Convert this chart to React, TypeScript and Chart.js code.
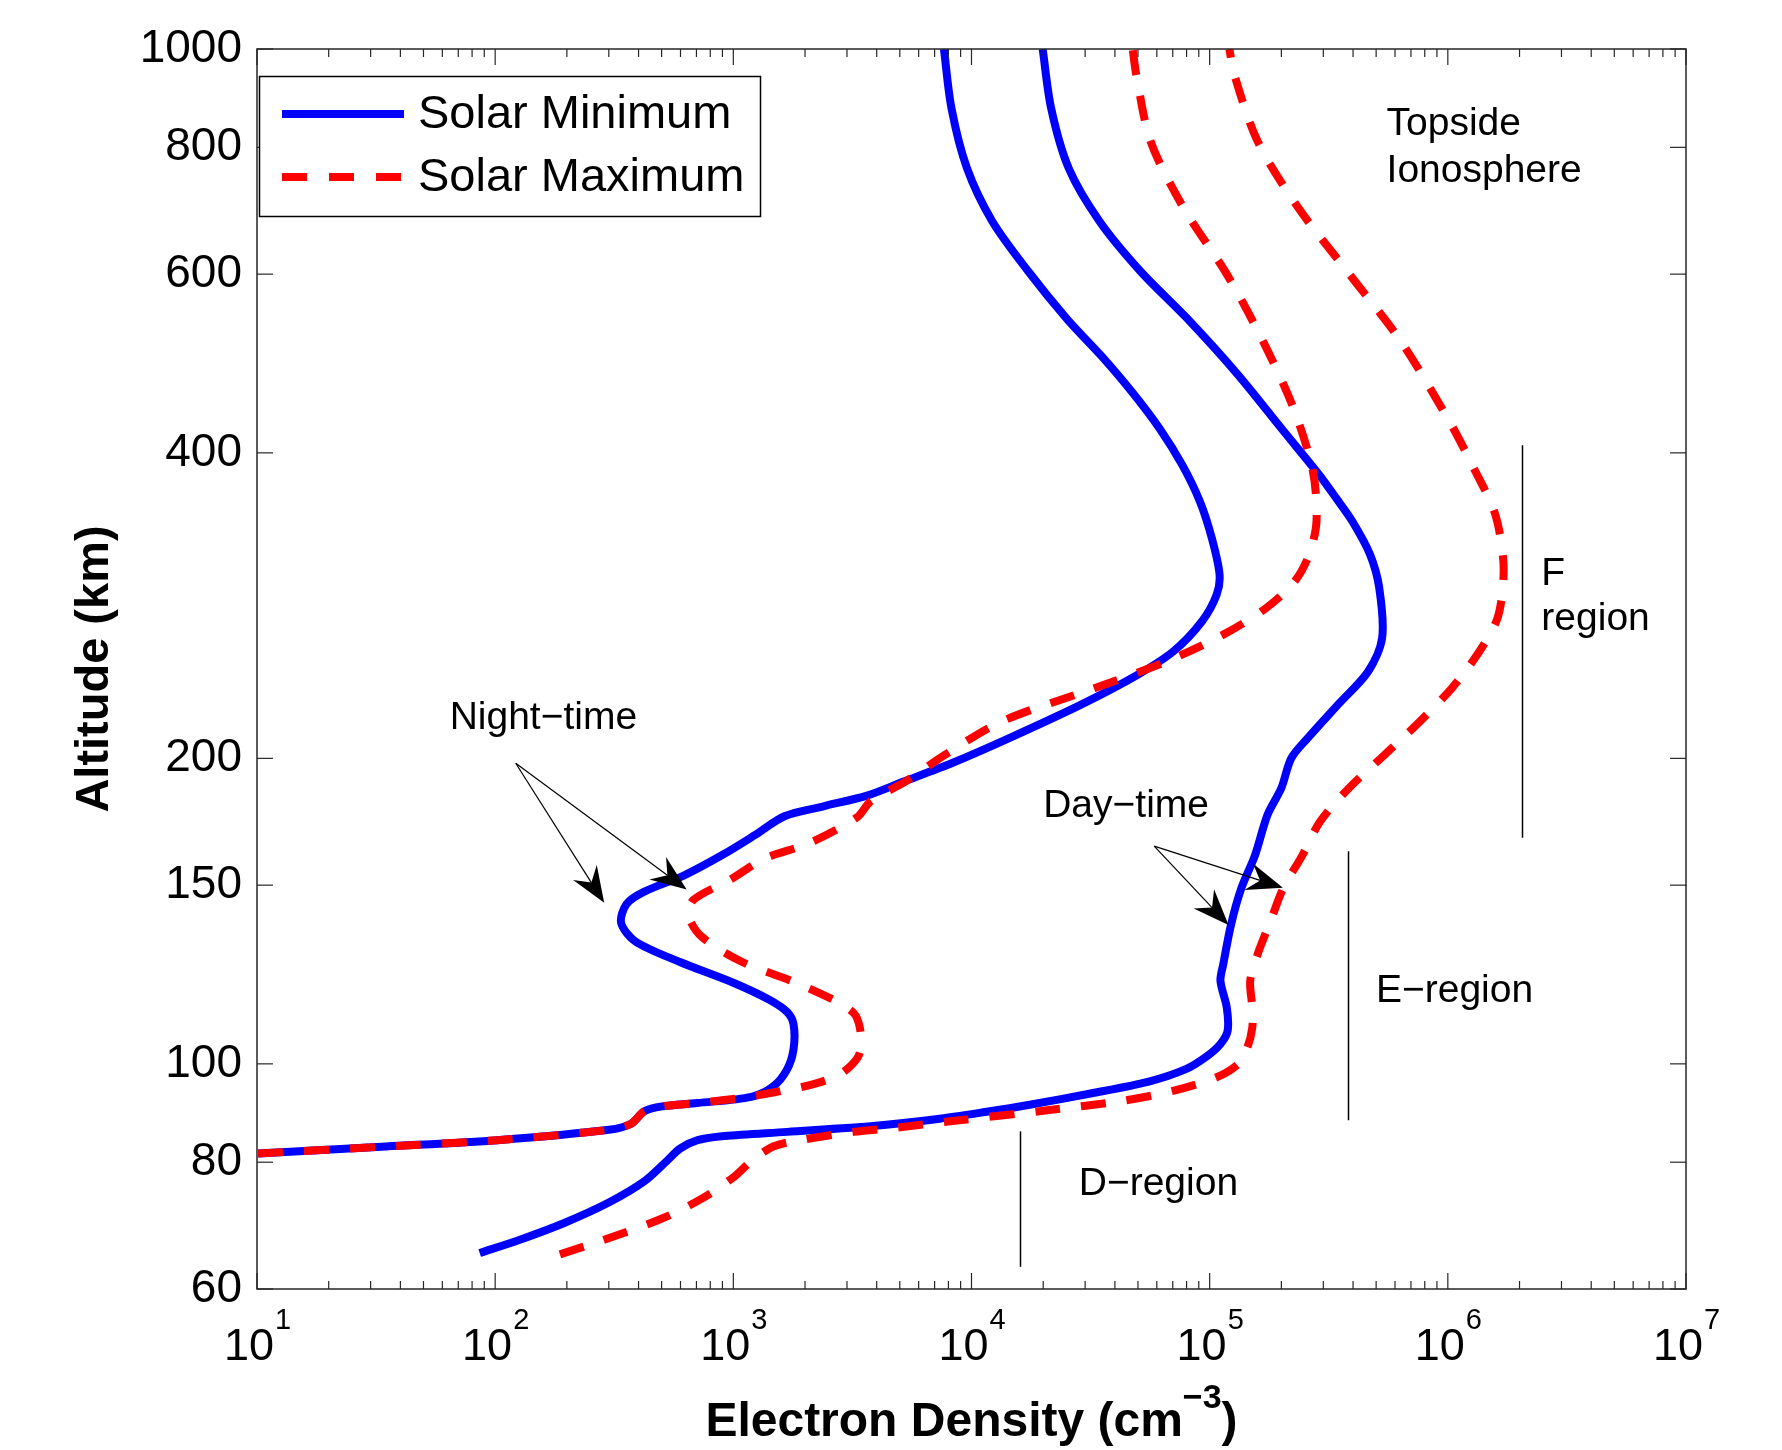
import React, { useEffect, useRef } from 'react';
import { Chart, registerables } from 'chart.js';

Chart.register(...registerables);

const FONT = '"Liberation Sans", Arial, Helvetica, sans-serif';

// ---- Data (altitude in km, electron density in cm^-3) ----
const minNightAltitude = [81.6, 82.9, 84.1, 86.1, 87.3, 89.8, 90.8, 91.5, 92.8, 95.0, 98.7, 103.4, 109.4, 112.5, 115.7, 120.2, 126.0, 132.0, 137.7, 143.7, 147.8, 153.4, 160.8, 168.0, 175.4, 179.3, 183.8, 189.4, 198, 209.4, 225.8, 241.8, 255, 273, 290, 303.7, 329.9, 358.2, 389, 422.5, 458.9, 498.4, 541.2, 604, 677, 763, 874, 1000];
const minNightDensity = [10.1, 34.8, 102, 300, 372, 423, 501, 708, 1190, 1470, 1680, 1790, 1790, 1680, 1410, 1000, 597, 388, 338, 356, 423, 622, 906, 1230, 1640, 2370, 3640, 5090, 8340, 14400, 28700, 49900, 70500, 92900, 107000, 110000, 102000, 91000, 76800, 61700, 47300, 35100, 25300, 17300, 12200, 9570, 8240, 7660];

const minDayAltitude = [65.1, 67.1, 69.7, 73.0, 76.6, 80.2, 82.5, 84.1, 84.9, 85.7, 86.9, 88.2, 89.6, 91.2, 93.5, 96.0, 98.8, 101.8, 104.6, 107.8, 113.6, 120.7, 125.3, 137.2, 149.1, 160.5, 176, 187, 200, 209.4, 225.8, 243.6, 262.9, 294.6, 317.8, 342.9, 360.5, 381, 421, 478, 544, 604, 677, 763, 874, 1000];
const minDayDensity = [86.1, 127, 195, 300, 423, 525, 597, 708, 918, 1680, 3960, 7080, 11200, 17800, 31600, 55000, 79400, 97700, 111000, 119000, 118000, 111000, 114000, 123000, 136000, 155000, 175000, 200000, 220000, 258000, 345000, 463000, 530000, 515000, 471000, 396000, 341000, 287000, 203000, 131000, 79600, 51200, 34400, 25600, 21600, 19900];

const maxNightAltitude = [81.6, 82.9, 84.1, 86.1, 87.3, 89.8, 90.8, 91.5, 92.6, 93.7, 95.5, 97.7, 101.5, 105.4, 111.5, 114.7, 120.2, 126.0, 133.3, 139.7, 145.0, 152.0, 159.3, 165, 175, 181.7, 189.6, 201.6, 217.5, 234.6, 249.2, 264.8, 281.4, 299.1, 317.8, 342.9, 384.2, 443.6, 516, 600, 697, 811, 943, 1000];
const maxNightDensity = [10.1, 34.8, 102, 300, 372, 423, 501, 708, 1090, 1470, 2170, 2810, 3330, 3450, 3270, 2810, 1830, 1090, 740, 650, 679, 977, 1350, 2080, 3310, 3790, 5250, 7730, 13400, 33000, 65800, 114000, 173000, 228000, 262000, 281000, 271000, 224000, 167000, 118000, 77800, 56500, 49200, 47500];

const maxDayAltitude = [64.9, 67.1, 70.4, 73.7, 77.3, 80.2, 82.9, 84.1, 85.7, 86.6, 87.9, 89.9, 92.0, 94.1, 97.0, 100.0, 103.8, 108.6, 113.6, 120.7, 128.2, 138.2, 149.1, 160.5, 173.1, 186.8, 201.5, 217.5, 234.6, 253.1, 273.1, 290.1, 313.0, 348.1, 387.1, 430.6, 516, 600, 697, 811, 943, 1000];
const maxDayDensity = [187, 287, 502, 740, 1000, 1190, 1470, 1910, 3200, 5010, 8510, 20000, 43600, 70800, 107000, 132000, 144000, 151000, 151000, 148000, 159000, 180000, 204000, 245000, 290000, 383000, 541000, 764000, 1040000, 1330000, 1600000, 1690000, 1710000, 1580000, 1280000, 1010000, 632000, 386000, 236000, 159000, 127000, 121000];

const seriesLabels = ['Solar Minimum', 'Solar Maximum'];
const yTickValues = [60, 80, 100, 150, 200, 400, 600, 800, 1000];
const xTickExponents = [1, 2, 3, 4, 5, 6, 7];
const xMinorMultipliers = [2, 3, 4, 5, 6, 7, 8, 9];

// region marker bars: density position, lower and upper altitude
const regionDensity = [2.05e6, 3.8e5, 1.6e4];
const regionLow = [167, 88, 63.1];
const regionHigh = [407, 162, 85.8];

// annotation arrows (start -> tip) in data coordinates
const arrowStartDensity = [122, 122, 58500, 58500];
const arrowStartAltitude = [197.8, 197.8, 163.9, 163.9];
const arrowTipDensity = [287, 637, 120000, 203000];
const arrowTipAltitude = [144.1, 148.5, 137.0, 149.1];

// text annotations (left/baseline anchored) in data coordinates
const noteTexts = ['Topside', 'Ionosphere', 'F', 'region', 'Night\u2212time', 'Day\u2212time', 'E\u2212region', 'D\u2212region'];
const noteDensity = [5.53e5, 5.53e5, 2.47e6, 2.47e6, 64.4, 2.0e4, 4.99e5, 2.82e4];
const noteAltitude = [822.7, 739, 296.3, 267.5, 213.7, 175.2, 115.1, 74.2];

const BLUE = '#0000ff';
const RED = '#ff0000';
const DASH = [25, 21];
const LINE_W = 8;

function toPoints(alt: number[], den: number[]) {
  return alt.map((a, i) => ({ x: den[i], y: a }));
}

function drawArrow(ctx: CanvasRenderingContext2D, x0: number, y0: number, x1: number, y1: number) {
  const dx = x1 - x0;
  const dy = y1 - y0;
  const len = Math.hypot(dx, dy);
  const ux = dx / len;
  const uy = dy / len;
  const nx = -uy;
  const ny = ux;
  const L = 36;
  const W = 14;
  const notch = 24;
  ctx.beginPath();
  ctx.moveTo(x0, y0);
  ctx.lineTo(x1 - ux * notch, y1 - uy * notch);
  ctx.stroke();
  ctx.beginPath();
  ctx.moveTo(x1, y1);
  ctx.lineTo(x1 - ux * L + nx * W, y1 - uy * L + ny * W);
  ctx.lineTo(x1 - ux * notch, y1 - uy * notch);
  ctx.lineTo(x1 - ux * L - nx * W, y1 - uy * L - ny * W);
  ctx.closePath();
  ctx.fill();
}

const overlayPlugin = {
  id: 'overlay',
  afterDraw(chart: any) {
    const ctx: CanvasRenderingContext2D = chart.ctx;
    const xs = chart.scales.x;
    const ys = chart.scales.y;
    const { left, right, top, bottom } = chart.chartArea;
    ctx.save();

    // region bars
    ctx.strokeStyle = '#000';
    ctx.lineWidth = 1.5;
    regionDensity.forEach((d, i) => {
      const px = Math.round(xs.getPixelForValue(d)) + 0.5;
      ctx.beginPath();
      ctx.moveTo(px, ys.getPixelForValue(regionLow[i]));
      ctx.lineTo(px, ys.getPixelForValue(regionHigh[i]));
      ctx.stroke();
    });

    // arrows
    ctx.lineWidth = 1.2;
    ctx.fillStyle = '#000';
    arrowStartDensity.forEach((d, i) => {
      drawArrow(
        ctx,
        xs.getPixelForValue(d),
        ys.getPixelForValue(arrowStartAltitude[i]),
        xs.getPixelForValue(arrowTipDensity[i]),
        ys.getPixelForValue(arrowTipAltitude[i])
      );
    });

    // annotation texts
    ctx.font = `39px ${FONT}`;
    ctx.textAlign = 'left';
    ctx.textBaseline = 'alphabetic';
    ctx.fillStyle = '#000';
    noteTexts.forEach((t, i) => {
      ctx.fillText(t, xs.getPixelForValue(noteDensity[i]), ys.getPixelForValue(noteAltitude[i]));
    });

    // axes box
    ctx.strokeStyle = '#262626';
    ctx.lineWidth = 1.5;
    ctx.strokeRect(left, top, right - left, bottom - top);

    // ticks (inward, mirrored)
    ctx.lineWidth = 1.2;
    const seg = (x0: number, y0: number, x1: number, y1: number) => {
      ctx.beginPath();
      ctx.moveTo(x0, y0);
      ctx.lineTo(x1, y1);
      ctx.stroke();
    };
    xTickExponents.forEach((e, idx) => {
      const px = xs.getPixelForValue(Math.pow(10, e));
      seg(px, bottom, px, bottom - 16);
      seg(px, top, px, top + 16);
      if (idx < xTickExponents.length - 1) {
        xMinorMultipliers.forEach((m) => {
          const p = xs.getPixelForValue(m * Math.pow(10, e));
          seg(p, bottom, p, bottom - 8);
          seg(p, top, p, top + 8);
        });
      }
    });
    yTickValues.forEach((v) => {
      const py = ys.getPixelForValue(v);
      seg(left, py, left + 16, py);
      seg(right, py, right - 16, py);
    });

    // x tick labels with superscript exponents
    ctx.fillStyle = '#000';
    ctx.textAlign = 'left';
    ctx.textBaseline = 'alphabetic';
    xTickExponents.forEach((e) => {
      const px = xs.getPixelForValue(Math.pow(10, e));
      ctx.font = `45px ${FONT}`;
      const wBase = ctx.measureText('10').width;
      ctx.font = `29px ${FONT}`;
      const expText = String(e);
      const wExp = ctx.measureText(expText).width;
      const x0 = px - (wBase + wExp) / 2;
      ctx.font = `45px ${FONT}`;
      ctx.fillText('10', x0, bottom + 71);
      ctx.font = `29px ${FONT}`;
      ctx.fillText(expText, x0 + wBase + 1, bottom + 40);
    });

    // x axis title with superscript
    const t1 = 'Electron Density (cm';
    const t2 = '\u22123';
    const t3 = ')';
    ctx.font = `bold 48px ${FONT}`;
    const w1 = ctx.measureText(t1).width;
    const w3 = ctx.measureText(t3).width;
    ctx.font = `bold 34px ${FONT}`;
    const w2 = ctx.measureText(t2).width;
    let tx = (left + right) / 2 - (w1 + w2 + w3) / 2;
    const base = bottom + 147;
    ctx.font = `bold 48px ${FONT}`;
    ctx.fillText(t1, tx, base);
    tx += w1;
    ctx.font = `bold 34px ${FONT}`;
    ctx.fillText(t2, tx, base - 28);
    tx += w2;
    ctx.font = `bold 48px ${FONT}`;
    ctx.fillText(t3, tx, base);

    // legend
    const lx = left + 2.5;
    const ly = top + 27.5;
    const lw = 501;
    const lh = 140;
    ctx.fillStyle = '#fff';
    ctx.fillRect(lx, ly, lw, lh);
    ctx.strokeStyle = '#000';
    ctx.lineWidth = 1.5;
    ctx.strokeRect(lx, ly, lw, lh);
    const rows = [top + 65, top + 128];
    const colors = [BLUE, RED];
    seriesLabels.forEach((label, i) => {
      ctx.strokeStyle = colors[i];
      ctx.lineWidth = LINE_W;
      ctx.lineCap = 'butt';
      ctx.setLineDash(i === 1 ? [25, 22] : []);
      ctx.beginPath();
      ctx.moveTo(left + 25, rows[i]);
      ctx.lineTo(left + 147, rows[i]);
      ctx.stroke();
      ctx.setLineDash([]);
      ctx.fillStyle = '#000';
      ctx.font = `47px ${FONT}`;
      ctx.textBaseline = 'middle';
      ctx.fillText(label, left + 161, rows[i] + 1);
    });

    ctx.restore();
  },
};

export default function App() {
  const canvasRef = useRef<HTMLCanvasElement | null>(null);

  useEffect(() => {
    const canvas = canvasRef.current;
    if (!canvas) return;
    const common = {
      showLine: true,
      pointRadius: 0,
      pointHoverRadius: 0,
      borderWidth: LINE_W,
      tension: 0.3,
      fill: false,
      borderCapStyle: 'butt' as const,
      borderJoinStyle: 'round' as const,
    };
    const chart = new Chart(canvas, {
      type: 'scatter',
      data: {
        datasets: [
          { ...common, label: 'Solar Maximum night', data: toPoints(maxNightAltitude, maxNightDensity), borderColor: RED, backgroundColor: RED, borderDash: DASH },
          { ...common, label: 'Solar Maximum day', data: toPoints(maxDayAltitude, maxDayDensity), borderColor: RED, backgroundColor: RED, borderDash: DASH },
          { ...common, label: 'Solar Minimum night', data: toPoints(minNightAltitude, minNightDensity), borderColor: BLUE, backgroundColor: BLUE },
          { ...common, label: 'Solar Minimum day', data: toPoints(minDayAltitude, minDayDensity), borderColor: BLUE, backgroundColor: BLUE },
        ],
      },
      options: {
        animation: false,
        responsive: false,
        maintainAspectRatio: false,
        devicePixelRatio: 1,
        layout: { padding: { top: 49, right: 96, bottom: 0, left: 0 } },
        plugins: {
          legend: { display: false },
          tooltip: { enabled: false },
        },
        events: [],
        scales: {
          x: {
            type: 'logarithmic',
            min: 10,
            max: 1e7,
            grid: { display: false, drawTicks: false, tickLength: 0 },
            border: { display: false },
            ticks: { display: false },
            afterBuildTicks: (scale: any) => {
              scale.ticks = xTickExponents.map((e) => ({ value: Math.pow(10, e) }));
            },
            afterFit: (scale: any) => {
              scale.height = 161;
            },
          },
          y: {
            type: 'logarithmic',
            min: 60,
            max: 1000,
            grid: { display: false, drawTicks: false, tickLength: 0 },
            border: { display: false },
            ticks: {
              autoSkip: false,
              color: '#000',
              padding: 15,
              font: { family: FONT, size: 46 },
              callback: (v: any) => String(v),
            },
            afterBuildTicks: (scale: any) => {
              scale.ticks = yTickValues.map((v) => ({ value: v }));
            },
            afterFit: (scale: any) => {
              scale.width = 257;
            },
            title: {
              display: true,
              text: 'Altitude (km)',
              color: '#000',
              font: { family: FONT, size: 47, weight: 'bold' },
              padding: { top: 67, bottom: 0 },
            },
          },
        },
      } as any,
      plugins: [overlayPlugin],
    });
    return () => chart.destroy();
  }, []);

  return (
    <div style={{ position: 'absolute', left: 0, top: 0, width: 1782, height: 1450, background: '#fff' }}>
      <canvas ref={canvasRef} width={1782} height={1450} style={{ display: 'block', width: 1782, height: 1450 }} />
    </div>
  );
}
